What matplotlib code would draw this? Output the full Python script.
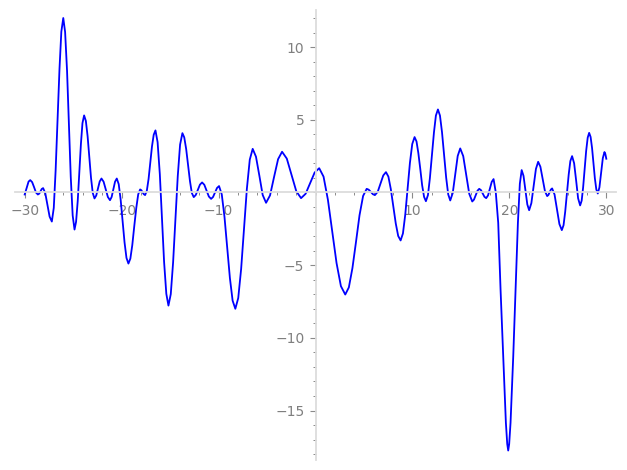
import matplotlib
matplotlib.use('Agg')
import matplotlib.pyplot as plt
from matplotlib.ticker import MultipleLocator

# points
x_vals = [
    -30.0, -29.8, -29.6, -29.43, -29.23, -29.03, -28.84, -28.64, -28.5, -28.37,
    -28.24, -28.1, -27.88, -27.65, -27.43, -27.2, -27.0, -26.81, -26.61, -26.41,
    -26.22, -26.02, -25.83, -25.63, -25.44, -25.25, -25.05, -24.86, -24.70, -24.53,
    -24.37, -24.2, -24.04, -23.87, -23.69, -23.51, -23.34, -23.16, -22.98, -22.8,
    -22.62, -22.44, -22.26, -22.08, -21.86, -21.64, -21.42, -21.2, -21.03, -20.85,
    -20.68, -20.5, -20.3, -20.1, -19.9, -19.7, -19.5, -19.3, -19.1, -18.9,
    -18.7, -18.49, -18.29, -18.09, -17.96, -17.84, -17.71, -17.58, -17.4, -17.22,
    -17.05, -16.87, -16.69, -16.51, -16.29, -16.06, -15.84, -15.62, -15.39, -15.17,
    -14.93, -14.69, -14.45, -14.21, -13.97, -13.73, -13.54, -13.34, -13.15, -12.95,
    -12.76, -12.56, -12.35, -12.13, -11.92, -11.7, -11.47, -11.24, -11.0, -10.77,
    -10.57, -10.36, -10.16, -9.95, -9.67, -9.39, -9.11, -8.83, -8.55, -8.27,
    -7.97, -7.67, -7.38, -7.08, -6.78, -6.48, -6.14, -5.79, -5.45, -5.1,
    -4.69, -4.28, -3.86, -3.45, -2.96, -2.47, -1.98, -1.49, -1.02, -0.56,
    -0.09, 0.38, 0.83, 1.28, 1.73, 2.17, 2.62, 3.07, 3.44, 3.81,
    4.18, 4.54, 4.91, 5.28, 5.49, 5.71, 5.92, 6.13, 6.42, 6.7,
    6.99, 7.27, 7.52, 7.77, 8.03, 8.28, 8.53, 8.78, 9.02, 9.26,
    9.5, 9.74, 9.98, 10.22, 10.42, 10.61, 10.81, 11.0, 11.2, 11.39,
    11.6, 11.8, 12.01, 12.22, 12.42, 12.63, 12.84, 13.05, 13.27, 13.48,
    13.69, 13.9, 14.16, 14.42, 14.67, 14.93, 15.24, 15.55, 15.86, 16.17,
    16.35, 16.53, 16.71, 16.89, 17.07, 17.25, 17.43, 17.61, 17.8, 17.99,
    18.18, 18.37, 18.6, 18.85, 19.09, 19.36, 19.64, 19.78, 19.88, 19.98,
    20.12, 20.4, 20.64, 20.88, 21.08, 21.27, 21.46, 21.66, 21.85, 22.04,
    22.27, 22.51, 22.74, 22.97, 23.2, 23.44, 23.67, 23.9, 24.03, 24.16,
    24.28, 24.41, 24.66, 24.91, 25.16, 25.41, 25.59, 25.76, 25.94, 26.12,
    26.29, 26.47, 26.68, 26.89, 27.09, 27.3, 27.46, 27.61, 27.77, 27.92,
    28.08, 28.23, 28.38, 28.53, 28.68, 28.82, 28.97, 29.12, 29.29, 29.47,
    29.64, 29.81, 29.9, 30.0,
]
y_vals = [
    -0.14, 0.3, 0.75, 0.85, 0.71, 0.36, 0.0, -0.14, -0.08, 0.08,
    0.24, 0.30, -0.04, -0.85, -1.66, -2.0, -1.06, 1.5, 5.0, 8.5,
    11.06, 12.0, 11.03, 8.36, 4.73, 1.09, -1.58, -2.55, -2.02, -0.59,
    1.38, 3.34, 4.77, 5.3, 4.92, 3.87, 2.45, 1.02, -0.03, -0.41,
    -0.21, 0.28, 0.76, 0.96, 0.74, 0.22, -0.31, -0.53, -0.31, 0.22,
    0.74, 0.96, 0.57, -0.50, -1.97, -3.43, -4.50, -4.89, -4.55, -3.62,
    -2.34, -1.07, -0.13, 0.21, 0.15, 0.01, -0.12, -0.18, 0.12, 0.93,
    2.05, 3.16, 3.97, 4.27, 3.46, 1.26, -1.76, -4.77, -6.97, -7.78,
    -6.99, -4.81, -1.85, 1.12, 3.29, 4.08, 3.79, 2.98, 1.88, 0.78,
    -0.03, -0.32, -0.17, 0.19, 0.54, 0.69, 0.53, 0.13, -0.28, -0.44,
    -0.31, 0.0, 0.31, 0.44, -0.13, -1.67, -3.78, -5.89, -7.44, -8.0,
    -7.26, -5.25, -2.5, 0.25, 2.26, 3.0, 2.46, 1.15, -0.17, -0.71,
    -0.20, 1.05, 2.29, 2.8, 2.33, 1.21, 0.08, -0.39, -0.09, 0.64,
    1.37, 1.67, 1.09, -0.50, -2.68, -4.85, -6.44, -7.02, -6.53, -5.2,
    -3.39, -1.57, -0.24, 0.25, 0.19, 0.04, -0.12, -0.18, 0.05, 0.61,
    1.17, 1.4, 1.09, 0.23, -0.95, -2.13, -2.99, -3.3, -2.82, -1.52,
    0.26, 2.03, 3.33, 3.81, 3.51, 2.71, 1.61, 0.50, -0.30, -0.6,
    -0.18, 0.98, 2.56, 4.13, 5.29, 5.71, 5.29, 4.15, 2.58, 1.02,
    -0.13, -0.55, -0.03, 1.24, 2.51, 3.03, 2.50, 1.21, -0.09, -0.62,
    -0.49, -0.19, 0.12, 0.25, 0.16, -0.07, -0.30, -0.39, -0.20, 0.27,
    0.73, 0.92, 0.0, -2.09, -6.67, -11.26, -15.84, -17.3, -17.75, -17.3,
    -15.84, -11.26, -6.67, -2.09, 0.6, 1.54, 1.14, 0.16, -0.82, -1.22,
    -0.73, 0.45, 1.62, 2.11, 1.77, 0.93, 0.09, -0.25, -0.17, 0.02,
    0.20, 0.28, -0.14, -1.16, -2.17, -2.59, -2.25, -1.32, -0.05, 1.23,
    2.16, 2.5, 2.01, 0.81, -0.40, -0.89, -0.56, 0.36, 1.61, 2.85,
    3.77, 4.1, 3.82, 3.06, 2.02, 0.97, 0.21, -0.07, 0.35, 1.36,
    2.36, 2.78, 2.65, 2.32,
]

x_major = [-30, -20, -10, 10, 20, 30]
y_major = [-15, -10, -5, 5, 10]

fig = plt.figure(figsize=(6.27, 4.70), dpi=100)
ax = fig.add_axes([15 / 627, 10 / 470, 601 / 627, 450 / 470])

ax.plot(x_vals, y_vals, color='#0000ff', linewidth=1.3, solid_joinstyle='round')

ax.set_xlim(-31, 31)
ax.set_ylim(-18.4, 12.55)

# sage-like axes crossing at the origin
for s in ['top', 'right']:
    ax.spines[s].set_visible(False)
ax.spines['left'].set_position(('data', 0))
ax.spines['bottom'].set_position(('data', 0))
for s in ['left', 'bottom']:
    ax.spines[s].set_color('#dcdcdc')
    ax.spines[s].set_linewidth(1.3)

ax.set_xticks(x_major)
ax.set_yticks(y_major)
ax.xaxis.set_minor_locator(MultipleLocator(2))
ax.yaxis.set_minor_locator(MultipleLocator(1))
ax.tick_params(which='major', length=4, width=0.8, color='#8a8a8a',
               labelcolor='#7f7f7f', labelsize=10, pad=4)
ax.tick_params(which='minor', length=2.5, width=0.7, color='#8a8a8a')

fig.savefig('out.png', dpi=100)
